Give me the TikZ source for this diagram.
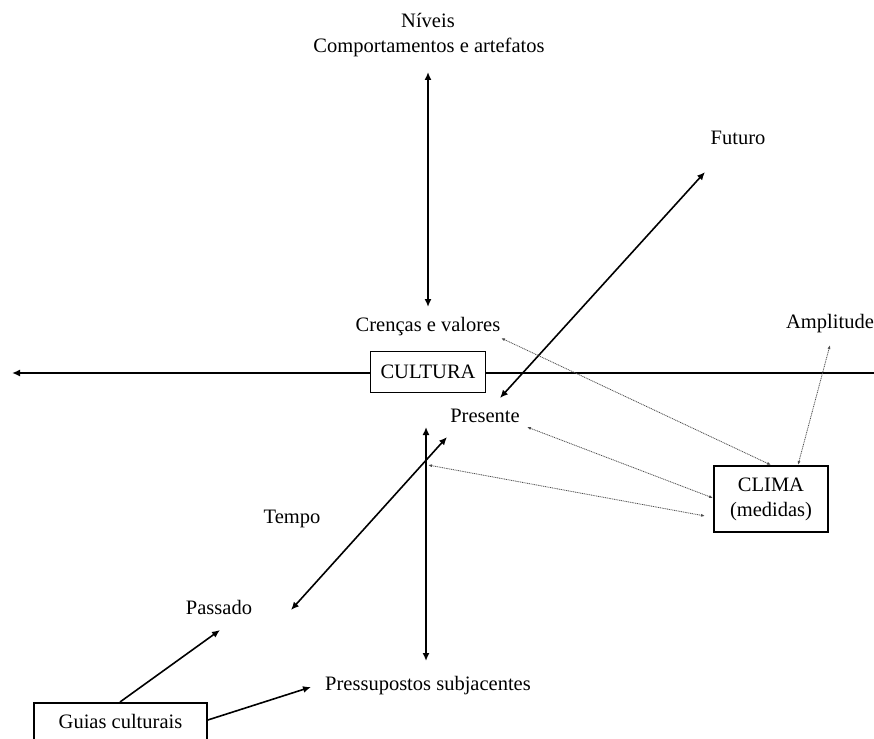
\documentclass[tikz,border=0pt]{standalone}
\usepackage{fontspec}
\setmainfont{Liberation Serif}
\usetikzlibrary{arrows.meta}
\begin{document}
\begin{tikzpicture}[x=1pt,y=-1pt,
  lbl/.style={inner sep=0pt, font=\fontsize{20.5}{24}\selectfont},
  boxnode/.style={draw, line width=1.6pt, fill=white, inner sep=0pt, font=\fontsize{20.5}{24}\selectfont},
  bold arrow/.style={line width=1.6pt, -{Latex[length=8pt,width=7pt]}},
  both arrow/.style={line width=1.6pt, {Latex[length=8pt,width=7pt]}-{Latex[length=8pt,width=7pt]}},
  thin link/.style={draw=black!70, line width=0.8pt, dash pattern=on 1pt off 0.8pt,
    {Latex[length=4pt,width=3pt]}-{Latex[length=4pt,width=3pt]}}]
\clip (0,0) rectangle (874,738);
\useasboundingbox (0,0) rectangle (874,738);

% labels
\node[lbl] (niveis) at (428,20) {Níveis};
\node[lbl] (comp) at (429,47) {Comportamentos e artefatos};
\node[lbl] (crencas) at (428,327) {Crenças e valores};
\node[lbl] (futuro) at (738,138) {Futuro};
\node[lbl] (amplitude) at (830,324) {Amplitude};
\node[lbl] (presente) at (485,416) {Presente};
\node[lbl] (tempo) at (292,519) {Tempo};
\node[lbl] (passado) at (219,607) {Passado};
\node[lbl] (pressup) at (428,686) {Pressupostos subjacentes};

% arrow end points
\coordinate (vtopA) at (428,72);
\coordinate (vtopB) at (428,307);
\coordinate (vbotA) at (426,427);
\coordinate (vbotB) at (426,661);
\coordinate (hleft) at (12,373);
\coordinate (hright) at (874,373);
\coordinate (futA) at (500,398);
\coordinate (futB) at (705,172);
\coordinate (pasA) at (291,610);
\coordinate (pasB) at (447,437);
\coordinate (crEnd) at (501,338);
\coordinate (amEnd) at (830,345);
\coordinate (prEnd) at (527,427);
\coordinate (axEnd) at (428,465);
\coordinate (guiTo1) at (220,630);
\coordinate (guiTo2) at (311,687);

% axes
\draw[line width=1.6pt, -{Latex[length=8pt,width=7pt]}] (hright) -- (hleft);
\draw[both arrow] (vtopA) -- (vtopB);
\draw[both arrow] (vbotA) -- (vbotB);
\draw[both arrow] (futA) -- (futB);
\draw[both arrow] (pasA) -- (pasB);

% boxes
\node[boxnode, minimum width=115pt, minimum height=41pt] (cultura) at (428,372) {CULTURA};
\node[boxnode, minimum width=114pt, minimum height=66pt, align=center] (clima) at (771,499)
  {CLIMA\\[1pt](medidas)};
\node[boxnode, minimum width=173pt, minimum height=60pt, anchor=north] (guias) at (120.5,702) {};
\node[lbl] (guiastext) at (120.5,721) {Guias culturais};

% dotted links to CLIMA
\draw[thin link] (crEnd) -- (771,465);
\draw[thin link] (amEnd) -- (798,465);
\draw[thin link] (prEnd) -- (713,498);
\draw[thin link] (axEnd) -- (705,516);

% from the cultural guides
\draw[bold arrow] (120,702) -- (guiTo1);
\draw[bold arrow] (guias.north east |- 0,720) -- (guiTo2);
\end{tikzpicture}
\end{document}
